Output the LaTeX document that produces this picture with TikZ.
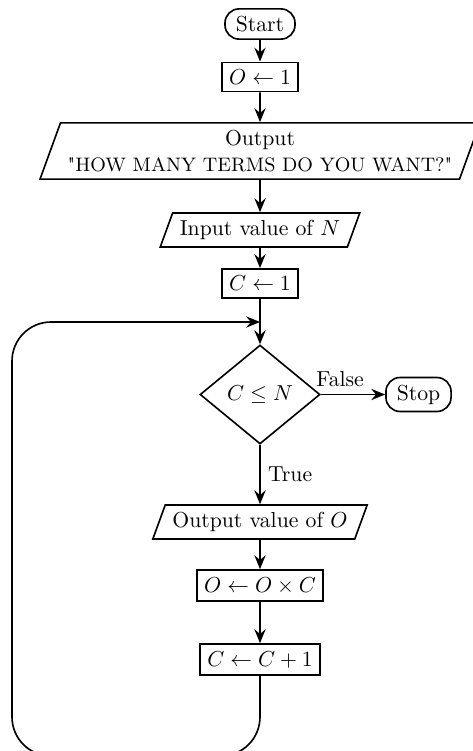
\documentclass[tikz,border=0pt]{standalone}
\usetikzlibrary{shapes.geometric,arrows.meta}
\begin{document}
\begin{tikzpicture}[x=0.4608pt,y=-0.4608pt,
  line width=0.75pt,
  term/.style={draw, rectangle, rounded corners=6.5pt, inner xsep=5pt, inner ysep=3.333pt},
  proc/.style={draw, rectangle},
  io/.style={draw, trapezium, trapezium left angle=70, trapezium right angle=110},
  decision/.style={draw, diamond, inner sep=0pt, minimum width=55.3pt, minimum height=45.6pt},
  flow/.style={-{Stealth[length=6.4pt, width=5.2pt, inset=2.2pt]}},
  lbl/.style={inner sep=3.333pt}
]
\useasboundingbox (0,0) rectangle (472,751);

\node[term] (start) at (260,24) {Start};
\node[proc] (o1) at (260,77) {$O \leftarrow 1$};
\node[io, align=center] (out1) at (260,151) {Output\\{\small\textquotedbl HOW MANY TERMS DO YOU WANT?\textquotedbl}};
\node[io] (inp) at (260,230) {Input value of $N$};
\node[proc] (c1) at (260,283.5) {$C \leftarrow 1$};
\node[decision] (dec) at (260,394.5) {$C \leq N$};
\node[term] (stop) at (418.5,394.5) {Stop};
\node[io] (outv) at (260,522) {Output value of $O$};
\node[proc] (oxc) at (260,585.5) {$O \leftarrow O \times C$};
\node[proc] (cc) at (260,659.5) {$C \leftarrow C + 1$};

\coordinate (merge) at (260,322);
\coordinate (loopbr) at (260,756);
\coordinate (loopbl) at (12,756);
\coordinate (looptl) at (12,322);

\draw[flow] (start) -- (o1);
\draw[flow] (o1) -- (out1);
\draw[flow] (out1) -- (inp);
\draw[flow] (inp) -- (c1);
\draw[flow] (c1) -- (dec);
\draw[flow] (dec) -- node[lbl, above, pos=0.3] {False} (stop);
\draw[flow] (dec) -- node[lbl, right] {True} (outv);
\draw[flow] (outv) -- (oxc);
\draw[flow] (oxc) -- (cc);
\draw[flow, rounded corners=18pt] (cc.south) -- (loopbr) -- (loopbl) -- (looptl) -- (merge);
\end{tikzpicture}
\end{document}
